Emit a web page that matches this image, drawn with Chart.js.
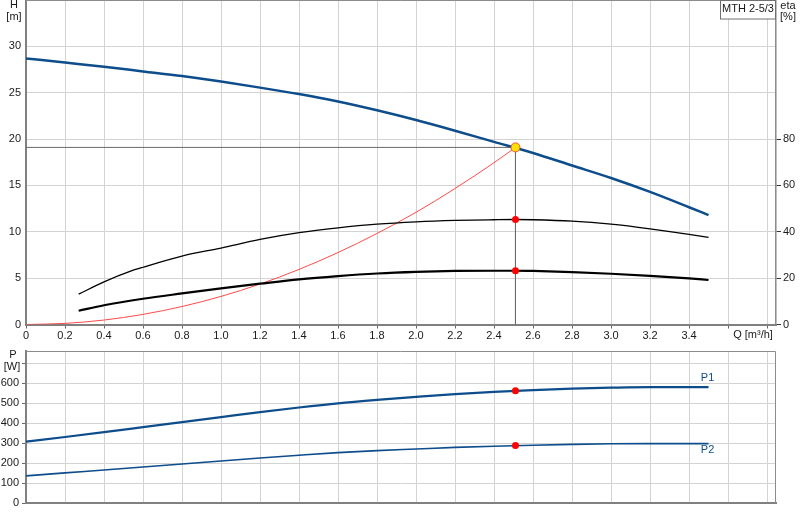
<!DOCTYPE html>
<html>
<head>
<meta charset="utf-8">
<script src="https://cdn.jsdelivr.net/npm/chart.js@4/dist/chart.umd.min.js"></script>
<style>
  body { margin: 0; background: #fff; }
  #top { position: absolute; left: 0; top: 0; }
  #bottom { position: absolute; left: 0; top: 345px; }
</style>
</head>
<body>
<canvas id="top" width="800" height="345"></canvas>
<canvas id="bottom" width="800" height="175"></canvas>
<script>
// flow rates [m3/h]
var qMain = [0, 0.2, 0.4, 0.6, 0.8, 1.0, 1.2, 1.4, 1.6, 1.8, 2.0, 2.2, 2.4, 2.6, 2.8, 3.0, 3.2, 3.4, 3.5];
var headH = [28.7, 28.25, 27.8, 27.3, 26.8, 26.2, 25.55, 24.85, 24.05, 23.1, 22.05, 20.9, 19.7, 18.5, 17.15, 15.8, 14.3, 12.65, 11.8];
var powerP1 = [308, 331, 355, 380, 405, 430, 455, 478, 499, 516, 531, 545, 556, 565, 572, 577, 580, 580, 580];
var powerP2 = [137, 152, 166, 181, 196, 211, 226, 240, 253, 263, 271, 279, 285, 290, 294, 297, 298, 298, 298];

var qEta = [0.27, 0.4, 0.54, 0.6, 0.8, 1.0, 1.2, 1.4, 1.6, 1.8, 2.0, 2.2, 2.4, 2.51, 2.6, 2.8, 3.0, 3.2, 3.4, 3.5];
var etaPump = [13.1, 18.4, 23.1, 24.7, 29.5, 33.0, 36.7, 39.6, 41.7, 43.3, 44.3, 44.9, 45.2, 45.3, 45.2, 44.6, 43.3, 41.3, 38.9, 37.6];

var qEtaTot = [0.27, 0.4, 0.6, 0.8, 1.0, 1.2, 1.4, 1.6, 1.8, 2.0, 2.2, 2.4, 2.51, 2.6, 2.8, 3.0, 3.2, 3.4, 3.5];
var etaTotal = [5.95, 8.3, 11.1, 13.4, 15.6, 17.6, 19.5, 20.9, 22.0, 22.7, 23.1, 23.2, 23.2, 23.1, 22.6, 21.9, 21.0, 19.9, 19.2];

var qSys = [0, 0.2, 0.4, 0.6, 0.8, 1.0, 1.2, 1.4, 1.6, 1.8, 2.0, 2.2, 2.4, 2.51];
var sysH = [0, 0.12, 0.48, 1.09, 1.94, 3.03, 4.36, 5.94, 7.76, 9.82, 12.1, 14.67, 17.45, 19.1];

// duty point
var dutyQ = 2.51;
var dutyH = 19.1;
var dutyEta = 45.3;
var dutyEtaTot = 23.2;
var dutyP1 = 562;
var dutyP2 = 288;

var qTicksShown = 3.5;
var hTicksShown = 30;
var etaTicksShown = 80;
var pTicksShown = 600;

var blue = "#0d4d8c";
var gridCol = "#d3d3d3";
var axisCol = "#808080";

Chart.defaults.font.family = "'Liberation Sans', Arial, sans-serif";
Chart.defaults.font.size = 11;
Chart.defaults.color = "#1a1a1a";

function pts(qs, vs) {
  return qs.map(function(q, i) { return { x: q, y: vs[i] }; });
}

function noPad(scale) {
  scale.paddingTop = 0;
  scale.paddingBottom = 0;
  scale.paddingLeft = 0;
  scale.paddingRight = 0;
}

function frame(texts, box) {
  return {
    id: "frame",
    afterDraw: function(chart) {
      var ctx = chart.ctx, a = chart.chartArea;
      ctx.save();
      ctx.strokeStyle = "#8c8c8c";
      ctx.lineWidth = 1;
      ctx.beginPath();
      ctx.moveTo(a.left, a.top + 0.5);
      ctx.lineTo(a.right - 0.5, a.top + 0.5);
      ctx.lineTo(a.right - 0.5, a.bottom);
      ctx.stroke();
      if (box) {
        ctx.fillStyle = "#fff";
        ctx.fillRect(a.right - 56, 0, 56, 19);
        ctx.strokeStyle = "#707070";
        ctx.strokeRect(a.right - 55.5, 0.5, 55, 18.5);
        ctx.fillStyle = "#1a1a1a";
        ctx.textAlign = "center";
        ctx.textBaseline = "middle";
        ctx.font = "11px 'Liberation Sans', Arial, sans-serif";
        ctx.fillText(box, a.right - 28, 9);
      }
      ctx.font = "11px 'Liberation Sans', Arial, sans-serif";
      ctx.textBaseline = "middle";
      texts(chart).forEach(function(t) {
        ctx.fillStyle = t.color || "#1a1a1a";
        ctx.textAlign = t.align || "center";
        ctx.fillText(t.text, t.x, t.y);
      });
      ctx.restore();
    }
  };
}

function qScale(showLabels) {
  return {
    type: "linear",
    min: 0,
    max: 3.846,
    ticks: {
      display: showLabels,
      stepSize: 0.2,
      includeBounds: false,
      autoSkip: false,
      maxRotation: 0,
      padding: 1,
      callback: function(v) {
        if (v > qTicksShown) return "";
        return v === 0 ? "0" : v.toFixed(1);
      }
    },
    grid: { color: gridCol, drawTicks: showLabels, tickLength: 4, tickColor: "#666" },
    border: { color: axisCol, width: 2 },
    afterFit: function(scale) {
      noPad(scale);
      scale.height = showLabels ? 20.5 : 16.7;
    }
  };
}

var topChart = new Chart(document.getElementById("top").getContext("2d"), {
  type: "line",
  data: {
    datasets: [
      { data: [{ x: dutyQ, y: dutyH }], yAxisID: "y", showLine: false,
        pointRadius: 4.5, pointBackgroundColor: "#ffe000", pointBorderColor: "#f05030", pointBorderWidth: 1 },
      { data: [{ x: dutyQ, y: dutyEta }, { x: dutyQ, y: dutyEtaTot }], yAxisID: "y2", showLine: false,
        pointRadius: 3.5, pointBackgroundColor: "#ff0000", pointBorderColor: "#ff0000", pointBorderWidth: 0 },
      { data: pts(qMain, headH), yAxisID: "y", borderColor: blue, borderWidth: 2.5,
        pointRadius: 0, cubicInterpolationMode: "monotone" },
      { data: pts(qEta, etaPump), yAxisID: "y2", borderColor: "#000", borderWidth: 1.3,
        pointRadius: 0, cubicInterpolationMode: "monotone" },
      { data: pts(qEtaTot, etaTotal), yAxisID: "y2", borderColor: "#000", borderWidth: 2.2,
        pointRadius: 0, cubicInterpolationMode: "monotone" },
      { data: pts(qSys, sysH), yAxisID: "y", borderColor: "#ff4a4a", borderWidth: 1,
        pointRadius: 0, cubicInterpolationMode: "monotone" },
      { data: [{ x: 0, y: dutyH }, { x: dutyQ, y: dutyH }], yAxisID: "y", borderColor: "#6a6a6a",
        borderWidth: 1, pointRadius: 0 },
      { data: [{ x: dutyQ, y: dutyH }, { x: dutyQ, y: 0 }], yAxisID: "y", borderColor: "#6a6a6a",
        borderWidth: 1, pointRadius: 0 }
    ]
  },
  options: {
    responsive: false,
    animation: false,
    layout: { autoPadding: false, padding: { top: 0, right: 0, left: 0, bottom: 0 } },
    plugins: { legend: { display: false }, tooltip: { enabled: false } },
    scales: {
      x: qScale(true),
      y: {
        position: "left",
        min: 0,
        max: 35,
        ticks: {
          stepSize: 5,
          padding: 5,
          callback: function(v) { return v > hTicksShown ? "" : String(v); }
        },
        grid: { color: gridCol, drawTicks: false },
        border: { color: axisCol, width: 2 },
        afterFit: function(scale) { noPad(scale); scale.width = 26; }
      },
      y2: {
        position: "right",
        min: 0,
        max: 140,
        ticks: {
          stepSize: 20,
          padding: 2,
          callback: function(v) { return v > etaTicksShown ? "" : String(v); }
        },
        grid: {
          drawOnChartArea: false,
          tickLength: 5,
          tickColor: function(c) { return c.tick && c.tick.value > etaTicksShown ? "rgba(0,0,0,0)" : "#333"; }
        },
        border: { color: axisCol, width: 1.5 },
        afterFit: function(scale) { noPad(scale); scale.width = 24; }
      }
    }
  },
  plugins: [frame(function(chart) {
    return [
      { text: "H", x: 14, y: 5 },
      { text: "[m]", x: 14, y: 17 },
      { text: "eta", x: 788, y: 6 },
      { text: "[%]", x: 788, y: 17 },
      { text: "Q [m\u00b3/h]", x: 753, y: 335 }
    ];
  }, "MTH 2-5/3")]
});

var bottomChart = new Chart(document.getElementById("bottom").getContext("2d"), {
  type: "line",
  data: {
    datasets: [
      { data: [{ x: dutyQ, y: dutyP1 }, { x: dutyQ, y: dutyP2 }], showLine: false,
        pointRadius: 3.5, pointBackgroundColor: "#ff0000", pointBorderColor: "#ff0000", pointBorderWidth: 0 },
      { data: pts(qMain, powerP1), borderColor: blue, borderWidth: 2.2,
        pointRadius: 0, cubicInterpolationMode: "monotone" },
      { data: pts(qMain, powerP2), borderColor: blue, borderWidth: 1.6,
        pointRadius: 0, cubicInterpolationMode: "monotone" }
    ]
  },
  options: {
    responsive: false,
    animation: false,
    layout: { autoPadding: false, padding: { top: 6, right: 24, left: 0, bottom: 0 } },
    plugins: { legend: { display: false }, tooltip: { enabled: false } },
    scales: {
      x: qScale(false),
      y: {
        position: "left",
        min: 0,
        max: 760,
        ticks: {
          stepSize: 100,
          includeBounds: false,
          padding: 3,
          callback: function(v) { return v > pTicksShown ? "" : String(v); }
        },
        grid: { color: gridCol, tickLength: 4, tickColor: "#666" },
        border: { color: axisCol, width: 2 },
        afterFit: function(scale) { noPad(scale); scale.width = 26; }
      }
    }
  },
  plugins: [frame(function(chart) {
    var xs = chart.scales.x, ys = chart.scales.y;
    var last = qMain.length - 1;
    return [
      { text: "P", x: 13, y: 10 },
      { text: "[W]", x: 12, y: 22 },
      { text: "P1", x: xs.getPixelForValue(qMain[last]) - 1, y: ys.getPixelForValue(powerP1[last]) - 9, color: blue },
      { text: "P2", x: xs.getPixelForValue(qMain[last]) - 1, y: ys.getPixelForValue(powerP2[last]) + 6, color: blue }
    ];
  }, null)]
});
</script>
</body>
</html>
